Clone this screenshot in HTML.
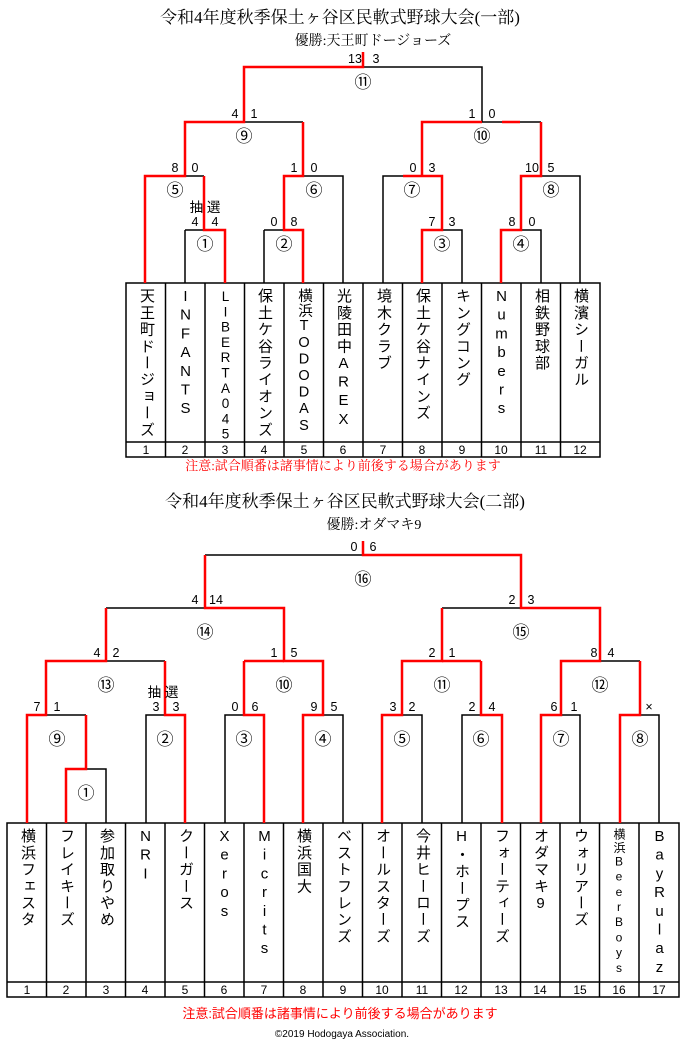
<!DOCTYPE html>
<html><head><meta charset="utf-8">
<style>
body{margin:0;width:680px;height:1043px;background:#fff;position:relative;overflow:hidden;font-family:"Liberation Sans","Noto Sans CJK JP",sans-serif;}
svg{position:absolute;left:0;top:0}
.n{position:absolute;width:20px;line-height:20px;writing-mode:vertical-rl;text-orientation:upright;font-size:15px;letter-spacing:1.7px;color:#000;white-space:nowrap}
.t{position:absolute;width:680px;text-align:center;font-family:"Liberation Serif","Noto Serif CJK SC",serif;color:#000}
</style></head><body>
<svg width="680" height="1043" xmlns="http://www.w3.org/2000/svg" font-family="Liberation Sans, Noto Sans CJK JP, sans-serif">
<g stroke="#000" stroke-width="1.5" fill="none">
<path d="M363 67H482V122M244 122H303M482 122H541M185 176H204M185 230H204M185 230V283M303 176H343V283M264 230H284M264 230V283M383 283V176H403M442 230H462V283M541 176H580V283M521 230H541V283"/>
<rect x="126" y="283" width="474" height="174"/>
<path d="M126 442H600"/>
<path d="M165.5 283V457M205 283V457M244.5 283V457M284 283V457M323.5 283V457M363 283V457M402.5 283V457M442 283V457M481.5 283V457M521 283V457M560.5 283V457"/>
<path d="M205 555H363M106 608H205M442 608H521M106 661H165M244 661H284M442 661H481M600 661H640M46 715H86M86 769H106V823M146 823V715H165M225 823V715H244M323 715H343V823M402 715H422V823M462 823V715H481M561 715H580V823M640 715H659V823"/>
<rect x="7" y="823" width="672" height="174"/>
<path d="M7 982H679"/>
<path d="M46.5 823V997M86 823V997M125.5 823V997M165 823V997M204.5 823V997M244 823V997M283.5 823V997M323 823V997M362.5 823V997M402 823V997M441.5 823V997M481 823V997M520.5 823V997M560 823V997M599.5 823V997M639 823V997"/>
</g>
<g stroke="#f00" stroke-width="2.5" fill="none">
<path d="M363 52V67H244V122H185V176H145V283"/>
<path d="M303 122V176H284V230H303V283"/>
<path d="M204 176V230H225V283"/>
<path d="M482 122H422V176H403M403 176H442V230H422V283"/>
<path d="M502 122H520"/>
<path d="M541 122V176H521V230H501V283"/>
<path d="M363 541V555H521V608H600V661H561V715H541V823"/>
<path d="M640 661V715H620V823"/>
<path d="M205 555V608H284V661H323V715H303V823"/>
<path d="M244 661V715H264V823"/>
<path d="M244 661H284"/>
<path d="M106 608V661H46V715H27V823"/>
<path d="M165 661V715H185V823"/>
<path d="M86 715V769H66V823"/>
<path d="M442 608V661H402V715H382V823"/>
<path d="M481 661V715H502V823"/>
<path d="M442 661H481"/>
</g>
<g font-size="12.5" text-anchor="middle" fill="#000">
<text x="355" y="63">13</text><text x="376" y="63">3</text>
<text x="235" y="118">4</text><text x="254" y="118">1</text>
<text x="472" y="118">1</text><text x="492" y="118">0</text>
<text x="175" y="172">8</text><text x="195" y="172">0</text>
<text x="294" y="172">1</text><text x="314" y="172">0</text>
<text x="413" y="172">0</text><text x="432" y="172">3</text>
<text x="532" y="172">10</text><text x="551" y="172">5</text>
<text x="195" y="226">4</text><text x="215" y="226">4</text>
<text x="274" y="226">0</text><text x="294" y="226">8</text>
<text x="432" y="226">7</text><text x="452" y="226">3</text>
<text x="512" y="226">8</text><text x="532" y="226">0</text>
<text x="205" y="212" font-size="13.5">抽 選</text>
<text x="354" y="551">0</text><text x="373" y="551">6</text>
<text x="195" y="604">4</text><text x="216" y="604">14</text>
<text x="512" y="604">2</text><text x="531" y="604">3</text>
<text x="97" y="657">4</text><text x="116" y="657">2</text>
<text x="274" y="657">1</text><text x="294" y="657">5</text>
<text x="432" y="657">2</text><text x="452" y="657">1</text>
<text x="594" y="657">8</text><text x="611" y="657">4</text>
<text x="37" y="711">7</text><text x="57" y="711">1</text>
<text x="156" y="711">3</text><text x="176" y="711">3</text>
<text x="235" y="711">0</text><text x="255" y="711">6</text>
<text x="314" y="711">9</text><text x="334" y="711">5</text>
<text x="393" y="711">3</text><text x="412" y="711">2</text>
<text x="472" y="711">2</text><text x="492" y="711">4</text>
<text x="554" y="711">6</text><text x="574" y="711">1</text>
<text x="649" y="711">×</text>
<text x="163" y="697" font-size="13.5">抽 選</text>
</g>
<g font-size="17" text-anchor="middle" fill="#000">
<text x="363" y="88">⑪</text><text x="244" y="142">⑨</text><text x="482" y="142">⑩</text>
<text x="175" y="196">⑤</text><text x="314" y="196">⑥</text><text x="412" y="196">⑦</text><text x="551" y="196">⑧</text>
<text x="205" y="250">①</text><text x="284" y="250">②</text><text x="442" y="250">③</text><text x="521" y="250">④</text>
<text x="363" y="585">⑯</text><text x="205" y="638">⑭</text><text x="521" y="638">⑮</text>
<text x="106" y="691">⑬</text><text x="284" y="691">⑩</text><text x="442" y="691">⑪</text><text x="600" y="691">⑫</text>
<text x="57" y="745">⑨</text><text x="165" y="745">②</text><text x="244" y="745">③</text><text x="323" y="745">④</text>
<text x="402" y="745">⑤</text><text x="481" y="745">⑥</text><text x="561" y="745">⑦</text><text x="640" y="745">⑧</text>
<text x="86" y="799">①</text>
</g>
<g font-size="12" text-anchor="middle" fill="#000">
<text x="146" y="454">1</text><text x="185" y="454">2</text><text x="225" y="454">3</text><text x="264" y="454">4</text><text x="304" y="454">5</text><text x="343" y="454">6</text><text x="383" y="454">7</text><text x="422" y="454">8</text><text x="462" y="454">9</text><text x="501" y="454">10</text><text x="541" y="454">11</text><text x="580" y="454">12</text>
<text x="27" y="994">1</text><text x="66" y="994">2</text><text x="106" y="994">3</text><text x="145" y="994">4</text><text x="185" y="994">5</text><text x="224" y="994">6</text><text x="264" y="994">7</text><text x="303" y="994">8</text><text x="343" y="994">9</text><text x="382" y="994">10</text><text x="422" y="994">11</text><text x="461" y="994">12</text><text x="501" y="994">13</text><text x="540" y="994">14</text><text x="580" y="994">15</text><text x="619" y="994">16</text><text x="659" y="994">17</text>
</g>
</svg>

<div class="t" style="top:3px;font-size:17px;left:0">令和4年度秋季保土ヶ谷区民軟式野球大会(一部)</div>
<div class="t" style="top:30px;font-size:14px;left:33px">優勝:天王町ドージョーズ</div>
<div class="t" style="top:455px;font-size:13px;color:#f00;left:3px">注意:試合順番は諸事情により前後する場合があります</div>
<div class="t" style="top:487px;font-size:17px;left:5px">令和4年度秋季保土ヶ谷区民軟式野球大会(二部)</div>
<div class="t" style="top:514px;font-size:14px;left:34px">優勝:オダマキ9</div>
<div class="t" style="top:1003px;font-size:13px;color:#f00;font-family:'Liberation Sans','Noto Sans CJK JP',sans-serif">注意:試合順番は諸事情により前後する場合があります</div>
<div class="t" style="top:1029px;font-size:10px;font-family:'Liberation Sans',sans-serif;left:2px">©2019 Hodogaya Association.</div>

<div class="n" style="left:136px;top:288px">天王町ドージョーズ</div>
<div class="n" style="left:175px;top:288px">INFANTS</div>
<div class="n" style="left:215px;top:289px;font-size:13.5px;letter-spacing:0.3px">LIBERTA045</div>
<div class="n" style="left:254px;top:288px">保土ケ谷ライオンズ</div>
<div class="n" style="left:294px;top:288px;font-size:14.5px;letter-spacing:0.6px">横浜TODODAS</div>
<div class="n" style="left:333px;top:288px">光陵田中AREX</div>
<div class="n" style="left:373px;top:288px">境木クラブ</div>
<div class="n" style="left:412px;top:288px">保土ケ谷ナインズ</div>
<div class="n" style="left:452px;top:288px">キングコング</div>
<div class="n" style="left:491px;top:288px">Numbers</div>
<div class="n" style="left:531px;top:288px">相鉄野球部</div>
<div class="n" style="left:570px;top:288px">横濱シーガル</div>

<div class="n" style="left:17px;top:828px">横浜フェスタ</div>
<div class="n" style="left:56px;top:828px">フレイキーズ</div>
<div class="n" style="left:96px;top:828px">参加取りやめ</div>
<div class="n" style="left:135px;top:828px">NRI</div>
<div class="n" style="left:175px;top:828px">クーガース</div>
<div class="n" style="left:214px;top:828px">Xeros</div>
<div class="n" style="left:254px;top:828px">Micrits</div>
<div class="n" style="left:293px;top:828px">横浜国大</div>
<div class="n" style="left:333px;top:828px">ベストフレンズ</div>
<div class="n" style="left:372px;top:828px">オールスターズ</div>
<div class="n" style="left:412px;top:828px">今井ヒーローズ</div>
<div class="n" style="left:451px;top:828px">H・ホープス</div>
<div class="n" style="left:491px;top:828px">フォーティーズ</div>
<div class="n" style="left:530px;top:828px">オダマキ9</div>
<div class="n" style="left:570px;top:828px">ウォリアーズ</div>
<div class="n" style="left:609px;top:828px;font-size:12px;letter-spacing:1.2px">横浜BeerBoys</div>
<div class="n" style="left:649px;top:828px">BayRulaz</div>
</body></html>
